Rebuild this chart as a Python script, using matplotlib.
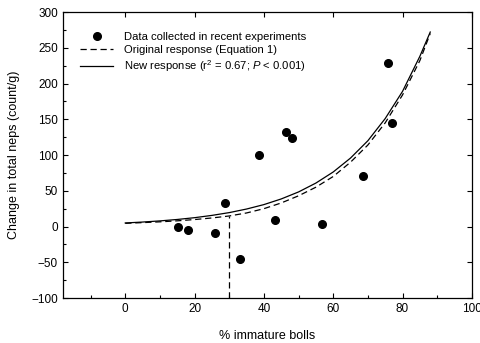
import numpy as np
import matplotlib
matplotlib.use('Agg')
from matplotlib import pyplot as plt
from matplotlib.ticker import MultipleLocator

plt.rcParams['font.family'] = ['Liberation Sans', 'DejaVu Sans']
plt.rcParams['mathtext.fontset'] = 'custom'
plt.rcParams['mathtext.rm'] = 'Liberation Sans'
plt.rcParams['mathtext.it'] = 'Liberation Sans:italic'

# measured points
pts_x = [15.3, 18.1, 25.9, 28.8, 33.1, 38.7, 43.1, 46.4, 48.1, 56.8, 68.5, 75.9, 77.0]
pts_y = [0, -5, -9.5, 33, -45, 100, 9, 132, 124, 3, 70, 228, 145]

# response curves
curve_x = [0, 5, 10, 15, 20, 25, 30, 35, 40, 45, 50, 55, 60, 65, 70, 75, 80, 85, 88]
new_y = [5.0, 6.3, 7.9, 9.9, 12.4, 15.6, 19.5, 24.5, 30.7, 38.6, 48.4, 60.8, 76.3,
         95.8, 120, 151, 189, 238, 272]
orig_y = [4.5, 5.5, 6.6, 8.0, 9.8, 12.0, 14.8, 19.0, 25.0, 33.0, 43, 55, 70,
          90, 114, 145, 184, 232, 270]

threshold_x = 30
threshold_y = 14.8

fig = plt.figure(figsize=(4.8, 3.43), dpi=100)
ax = fig.add_axes([0.131, 0.131, 0.852, 0.834])

ax.plot(pts_x, pts_y, 'o', color='black', markersize=5.5, label='Data collected in recent experiments')
ax.plot(curve_x, orig_y, color='black', lw=0.9, dashes=(5, 3), label='Original response (Equation 1)')
ax.plot(curve_x, new_y, color='black', lw=0.9, label='New response (r$^2$ = 0.67; $P$ < 0.001)')
ax.plot([threshold_x, threshold_x], [-100, threshold_y], color='black', lw=0.9, dashes=(5, 3))

ax.set_xlim(-18, 100)
ax.set_ylim(-100, 300)
ax.xaxis.set_major_locator(MultipleLocator(20))
ax.xaxis.set_minor_locator(MultipleLocator(10))
ax.yaxis.set_major_locator(MultipleLocator(50))
ax.yaxis.set_minor_locator(MultipleLocator(25))
ax.tick_params(which='both', direction='in', top=True, right=True, labelsize=8.5, width=0.8)
ax.tick_params(which='major', length=3.5)
ax.tick_params(which='minor', length=2, top=False, right=False)
for s in ax.spines.values():
    s.set_linewidth(0.9)

ax.set_xlabel('% immature bolls', fontsize=9, labelpad=11)
ax.set_ylabel('Change in total neps (count/g)', fontsize=9, labelpad=8)

ax.legend(loc='upper left', bbox_to_anchor=(0.03, 0.945), frameon=False, fontsize=8.1,
          handlelength=3, handletextpad=0.9, labelspacing=0.25, borderaxespad=0)

fig.savefig('out.png', dpi=100)
